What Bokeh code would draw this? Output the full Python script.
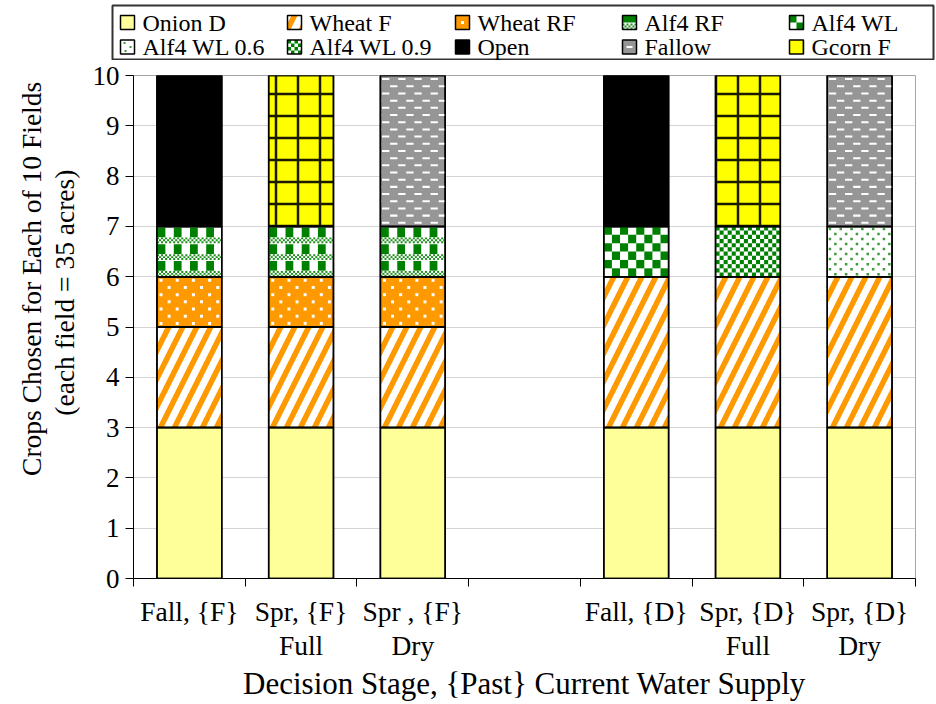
from bokeh.plotting import figure
from bokeh.layouts import column
from bokeh.models import ColumnDataSource, Range1d, FixedTicker
from bokeh.core.properties import value
from bokeh.embed import file_html
from bokeh.resources import INLINE

# Decision stages (the blank slot separates the two past-supply groups)
categories = ["Fall, {F}", "Spr, {F}\nFull", "Spr , {F}\nDry", " ",
              "Fall, {D}", "Spr, {D}\nFull", "Spr, {D}\nDry"]

# Number of fields assigned to each crop, per decision stage
onion_d   = [3, 3, 3, 0, 3, 3, 3]
wheat_f   = [2, 2, 2, 0, 3, 3, 3]
wheat_rf  = [1, 1, 1, 0, 0, 0, 0]
alf4_rf   = [1, 1, 1, 0, 0, 0, 0]
alf4_wl   = [0, 0, 0, 0, 1, 0, 0]
alf4_wl06 = [0, 0, 0, 0, 0, 0, 1]
alf4_wl09 = [0, 0, 0, 0, 0, 1, 0]
open_land = [3, 0, 0, 0, 3, 0, 0]
fallow    = [0, 0, 3, 0, 0, 0, 3]
gcorn_f   = [0, 3, 0, 0, 0, 3, 0]

series_names = ["Onion D", "Wheat F", "Wheat RF", "Alf4 RF", "Alf4 WL",
                "Alf4 WL 0.6", "Alf4 WL 0.9", "Open", "Fallow", "Gcorn F"]
series_values = [onion_d, wheat_f, wheat_rf, alf4_rf, alf4_wl,
                 alf4_wl06, alf4_wl09, open_land, fallow, gcorn_f]

y_ticks = list(range(0, 11))

BAR_W = 0.58
GREEN = "#008000"
LIGHT_GREEN = "#1F8F1F"
FONT = "Liberation Serif"

# Bar body styles (built-in hatches where they fit); the crops listed in
# texture_of get an overlay drawn on top of their plain fill.
styles = {
    "Onion D":     dict(fill_color="#FFFF99"),
    "Wheat F":     dict(fill_color="#FFFFFF", hatch_pattern="right_diagonal_line",
                        hatch_color="#FF9900", hatch_weight=5.5, hatch_scale=28),
    "Wheat RF":    dict(fill_color="#FF9900"),
    "Alf4 RF":     dict(fill_color="#FFFFFF"),
    "Alf4 WL":     dict(fill_color="#FFFFFF"),
    "Alf4 WL 0.6": dict(fill_color="#FFFFFF"),
    "Alf4 WL 0.9": dict(fill_color="#FFFFFF"),
    "Open":        dict(fill_color="#000000"),
    "Fallow":      dict(fill_color="#969696"),
    "Gcorn F":     dict(fill_color="#FFFF00", hatch_pattern="cross",
                        hatch_color="#1A1A00", hatch_weight=2.5, hatch_scale=22),
}
texture_of = {"Wheat RF": "orange_dots", "Alf4 RF": "plaid",
              "Alf4 WL": "big_checker", "Alf4 WL 0.6": "sparse_dots",
              "Alf4 WL 0.9": "small_checker", "Fallow": "dashes"}

p = figure(width=936, height=644, output_backend="svg", toolbar_location=None,
           x_range=Range1d(0, len(categories)), y_range=Range1d(0, 10),
           min_border_left=133, min_border_right=21,
           min_border_top=15, min_border_bottom=126)
p.background_fill_color = "white"
p.border_fill_color = "white"
p.outline_line_color = "#A6A6A6"
p.outline_line_width = 1

# ---- texture overlay builders (cells sized relative to the bar) -----------
quads = {"left": [], "right": [], "bottom": [], "top": [], "color": []}
dots = {"x": [], "y": [], "color": [], "size": []}


def add_quad(l, r, b, t, c):
    quads["left"].append(l); quads["right"].append(r)
    quads["bottom"].append(b); quads["top"].append(t)
    quads["color"].append(c)


def checker(xc, y0, y1, ncols, rows_per_unit, color):
    x0 = xc - BAR_W / 2
    cw = BAR_W / ncols
    nrows = max(1, round((y1 - y0) * rows_per_unit))
    rh = (y1 - y0) / nrows
    for r in range(nrows):
        for c in range(ncols):
            if (r + c) % 2 == 0:
                add_quad(x0 + c * cw, x0 + (c + 1) * cw,
                         y1 - (r + 1) * rh, y1 - r * rh, color)


def plaid(xc, y0, y1):
    x0 = xc - BAR_W / 2
    px = BAR_W / 4
    nper = max(1, round((y1 - y0) * 3))
    py = (y1 - y0) / nper
    for j in range(nper):
        top = y1 - j * py
        # solid block row
        for i in range(4):
            add_quad(x0 + i * px + 0.04 * px, x0 + i * px + 0.52 * px,
                     top - 0.64 * py, top - 0.06 * py, GREEN)
        # fine checked band
        band_top, band_bot = top - 0.66 * py, top - py
        bh = (band_top - band_bot) / 3
        fw = px / 8
        for r in range(3):
            for c in range(32):
                if (r + c) % 2 == 0:
                    add_quad(x0 + c * fw, x0 + (c + 1) * fw,
                             band_top - (r + 1) * bh, band_top - r * bh, LIGHT_GREEN)


def stagger_dots(xc, y0, y1, ncols, rows_per_unit, color, size):
    x0 = xc - BAR_W / 2
    cw = BAR_W / ncols
    nrows = max(1, round((y1 - y0) * rows_per_unit))
    rh = (y1 - y0) / nrows
    for r in range(nrows):
        for c in range(ncols):
            x = x0 + (c + 0.25 + 0.5 * (r % 2)) * cw
            dots["x"].append(x); dots["y"].append(y1 - (r + 0.5) * rh)
            dots["color"].append(color); dots["size"].append(size)


def stagger_dashes(xc, y0, y1, ncols, rows_per_unit, color):
    x0 = xc - BAR_W / 2
    cw = BAR_W / ncols
    nrows = max(1, round((y1 - y0) * rows_per_unit))
    rh = (y1 - y0) / nrows
    th = 0.02
    for r in range(nrows):
        yc = y1 - (r + 0.5) * rh
        shift = 0.5 * (r % 2)
        for c in range(-1, ncols):
            l = x0 + (c + 0.1 + shift) * cw
            rgt = l + 0.45 * cw
            l, rgt = max(l, x0), min(rgt, x0 + BAR_W)
            if rgt > l:
                add_quad(l, rgt, yc - th, yc + th, color)


# ---- stacked bars ----------------------------------------------------------
xs = [i + 0.5 for i in range(len(categories))]
base = [0] * len(categories)
seg_x, seg_b, seg_t = [], [], []
for name, vals in zip(series_names, series_values):
    keep = [i for i, v in enumerate(vals) if v > 0]
    src = ColumnDataSource(data=dict(
        x=[xs[i] for i in keep],
        bottom=[base[i] for i in keep],
        top=[base[i] + vals[i] for i in keep],
    ))
    p.vbar(x="x", bottom="bottom", top="top", width=BAR_W, source=src,
           line_color="black", line_width=1.5, **styles[name])
    tex = texture_of.get(name)
    for i in keep:
        xc, y0, y1 = xs[i], base[i], base[i] + vals[i]
        seg_x.append(xc); seg_b.append(y0); seg_t.append(y1)
        if tex == "orange_dots":
            stagger_dots(xc, y0, y1, 4, 7, "#FFFFFF", 3)
        elif tex == "plaid":
            plaid(xc, y0, y1)
        elif tex == "big_checker":
            checker(xc, y0, y1, 8, 6, GREEN)
        elif tex == "small_checker":
            checker(xc, y0, y1, 16, 12, GREEN)
        elif tex == "sparse_dots":
            stagger_dots(xc, y0, y1, 6, 10, "#3C9C3C", 2.5)
        elif tex == "dashes":
            stagger_dashes(xc, y0, y1, 4, 7, "#FFFFFF")
    base = [b + v for b, v in zip(base, vals)]

p.quad(left="left", right="right", bottom="bottom", top="top",
       source=ColumnDataSource(quads), fill_color="color", line_color=None)
p.scatter(x="x", y="y", size="size", marker="square",
          source=ColumnDataSource(dots), fill_color="color", line_color=None)
# crisp outlines over the textures
p.vbar(x=seg_x, bottom=seg_b, top=seg_t, width=BAR_W, fill_alpha=0,
       line_color="black", line_width=1.5)

# ---- axes ------------------------------------------------------------------
p.xgrid.visible = False
p.ygrid.grid_line_color = "#D4D4D4"
p.ygrid.grid_line_width = 1

NB = "\u00a0"
p.yaxis.ticker = FixedTicker(ticks=y_ticks)
p.yaxis.major_tick_out = 8
p.yaxis.major_tick_in = 0
p.yaxis.minor_tick_out = 0
p.yaxis.minor_tick_in = 0
p.yaxis.major_label_text_font = FONT
p.yaxis.major_label_text_font_size = "27px"
p.yaxis.major_label_standoff = 6
p.yaxis.axis_label = (NB * 14 + "Crops Chosen for Each of 10 Fields\n"
                      + NB * 10 + "(each field = 35 acres)")
p.yaxis.axis_label_text_font = FONT
p.yaxis.axis_label_text_font_size = "27.5px"
p.yaxis.axis_label_text_font_style = "normal"
p.yaxis.axis_label_text_line_height = 1.05
p.yaxis.axis_label_standoff = 10

p.xaxis.ticker = FixedTicker(ticks=xs, minor_ticks=list(range(len(categories) + 1)))
p.xaxis.major_label_overrides = {x: c for x, c in zip(xs, categories)}
p.xaxis.major_tick_out = 0
p.xaxis.major_tick_in = 0
p.xaxis.minor_tick_out = 8
p.xaxis.minor_tick_in = 0
p.xaxis.major_label_text_font = FONT
p.xaxis.major_label_text_font_size = "27.5px"
p.xaxis.major_label_text_line_height = 1.12
p.xaxis.major_label_standoff = 9
p.xaxis.axis_label = "Decision Stage, {Past} Current Water Supply"
p.xaxis.axis_label_text_font = FONT
p.xaxis.axis_label_text_font_size = "31px"
p.xaxis.axis_label_text_font_style = "normal"
p.xaxis.axis_label_standoff = 2

for ax in (p.xaxis, p.yaxis):
    ax.axis_line_color = "black"
    ax.major_tick_line_color = "black"
    ax.minor_tick_line_color = "black"
    ax.major_label_text_color = "black"
    ax.axis_label_text_color = "black"

# ---- legend strip (pixel coordinates, y downwards) -------------------------
LEG_H = 60
leg = figure(width=936, height=LEG_H, output_backend="svg", toolbar_location=None,
             x_range=Range1d(0, 936), y_range=Range1d(LEG_H, 0),
             x_axis_location=None, y_axis_location=None,
             min_border=0, min_border_left=0, min_border_right=0,
             min_border_top=0, min_border_bottom=0)
leg.grid.visible = False
leg.outline_line_color = None
leg.background_fill_color = "white"
leg.border_fill_color = "white"
# keep the strip's frame independent of the chart frame below it
for fig in (leg, p):
    if "frame_align" in fig.properties():
        fig.frame_align = False

col_x = [120, 287, 455, 622, 789]
row_y = [22, 46.5]
SW = 14
sw_pos = [(col_x[k % 5], row_y[k // 5]) for k in range(len(series_names))]

leg.quad(left=[112], right=[933], top=[5], bottom=[59], fill_color="white",
         line_color="#333333", line_width=2)

for name, (sx, sy) in zip(series_names, sw_pos):
    left, right, top, bot = sx, sx + SW, sy - SW / 2, sy + SW / 2
    leg.quad(left=[left], right=[right], top=[top], bottom=[bot],
             line_color=None, **styles[name])
    tex = texture_of.get(name)
    if tex == "orange_dots":
        leg.scatter(x=[sx + 7], y=[sy], size=3, marker="square",
                    fill_color="white", line_color=None)
    elif tex == "plaid":
        leg.quad(left=[left], right=[right], top=[top], bottom=[sy],
                 fill_color=GREEN, line_color=None)
        for c in range(7):
            for r in range(3):
                if (r + c) % 2 == 0:
                    leg.quad(left=[left + 2 * c], right=[left + 2 * c + 2],
                             top=[sy + 1 + 2 * r], bottom=[sy + 3 + 2 * r],
                             fill_color=LIGHT_GREEN, line_color=None)
    elif tex == "big_checker":
        leg.quad(left=[left, sx + 7], right=[sx + 7, right],
                 top=[top, sy], bottom=[sy, bot], fill_color=GREEN, line_color=None)
    elif tex == "small_checker":
        for c in range(4):
            for r in range(4):
                if (r + c) % 2 == 0:
                    leg.quad(left=[left + 3.5 * c], right=[left + 3.5 * (c + 1)],
                             top=[top + 3.5 * r], bottom=[top + 3.5 * (r + 1)],
                             fill_color=GREEN, line_color=None)
    elif tex == "sparse_dots":
        leg.scatter(x=[sx + 4, sx + 10, sx + 5], y=[sy - 4, sy, sy + 4], size=2,
                    marker="square", fill_color="#3C9C3C", line_color=None)
    elif tex == "dashes":
        leg.quad(left=[sx + 4], right=[sx + 10], top=[sy - 1], bottom=[sy + 1],
                 fill_color="white", line_color=None)
    leg.quad(left=[left], right=[right], top=[top], bottom=[bot],
             fill_alpha=0, line_color="black", line_width=1.5)

leg.text(x=[sx + 22 for sx, _ in sw_pos], y=[sy for _, sy in sw_pos],
         text=series_names, text_font=value(FONT),
         text_font_size="24px", text_baseline="middle", text_align="left",
         text_color="black")

layout = column(leg, p, spacing=0)
open("out.html", "w").write(file_html(layout, INLINE))
